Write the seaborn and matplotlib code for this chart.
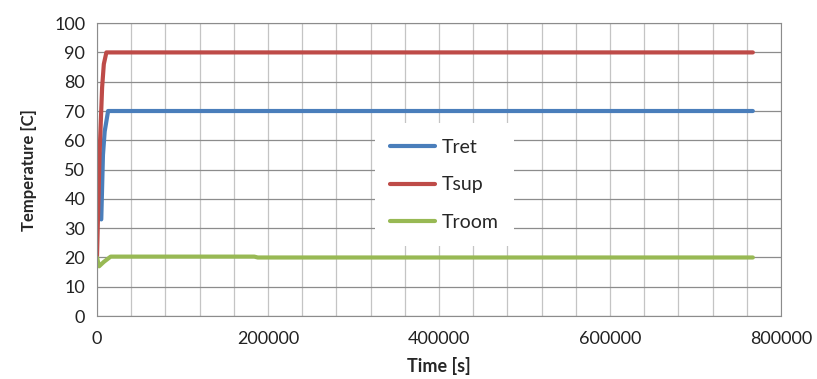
import numpy as np
import pandas as pd
import seaborn as sns
import matplotlib.pyplot as plt
from matplotlib.ticker import MultipleLocator

# values
tret_time = [5000, 7000, 9000, 13000, 200000, 400000, 600000, 767000]
tret_temp = [33, 55, 63, 70, 70, 70, 70, 70]
tsup_time = [0, 3000, 6000, 8000, 11000, 200000, 400000, 600000, 767000]
tsup_temp = [20, 55, 78, 86, 90, 90, 90, 90, 90]
troom_time = [0, 2500, 8000, 16000, 100000, 184000, 188000, 400000, 600000, 767000]
troom_temp = [20, 17, 18.5, 20.3, 20.3, 20.3, 20.0, 20.0, 20.0, 20.0]
x_ticks = [0, 200000, 400000, 600000, 800000]

df = pd.concat([
    pd.DataFrame({'time': tret_time, 'temp': tret_temp, 'series': 'Tret'}),
    pd.DataFrame({'time': tsup_time, 'temp': tsup_temp, 'series': 'Tsup'}),
    pd.DataFrame({'time': troom_time, 'temp': troom_temp, 'series': 'Troom'}),
])

sns.set_style('white')
plt.rcParams['font.family'] = ['Lato', 'DejaVu Sans']

fig = plt.figure(figsize=(8.17, 3.79), dpi=100)
ax = fig.add_axes([0.1187, 0.166, 0.8373, 0.773])

palette = {'Tret': '#4A7EBB', 'Tsup': '#BE4B48', 'Troom': '#98B954'}
sns.lineplot(data=df, x='time', y='temp', hue='series', palette=palette,
             linewidth=3, sort=False, estimator=None, ax=ax)

ax.set_xlim(0, 800000)
ax.set_ylim(0, 100)
ax.set_xticks(x_ticks)
ax.set_xticklabels([str(t) for t in x_ticks])
ax.xaxis.set_minor_locator(MultipleLocator(40000))
ax.yaxis.set_major_locator(MultipleLocator(10))
ax.grid(which='major', axis='y', color='#8c8c8c', linewidth=0.9)
ax.grid(which='both', axis='x', color='#c4c4c4', linewidth=0.9)
ax.set_axisbelow(True)
for s in ax.spines.values():
    s.set_color('#8c8c8c')
ax.tick_params(axis='both', which='major', length=5, color='#8c8c8c',
               labelsize=13, labelcolor='#222222', direction='out')
ax.tick_params(axis='both', which='minor', length=0)
ax.tick_params(axis='x', pad=6)

ax.set_xlabel('Time [s]', fontsize=13, fontweight='bold', labelpad=7)
ax.set_ylabel('Temperature [C]', fontsize=12, fontweight='bold', labelpad=12)

leg = ax.legend(loc='center', bbox_to_anchor=(0.508, 0.448), frameon=True,
                fontsize=14, handlelength=2.3, labelspacing=1.05,
                borderpad=0.8, handletextpad=0.35, fancybox=False)
leg.get_frame().set_edgecolor('none')
leg.get_frame().set_facecolor('white')
leg.get_frame().set_alpha(1)

plt.savefig('out.png', dpi=100)
